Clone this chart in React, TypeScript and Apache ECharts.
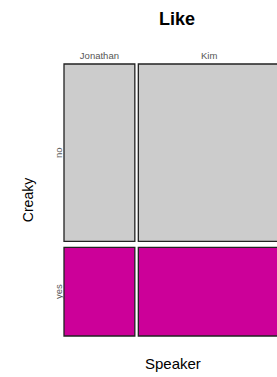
import React, { useEffect, useRef } from "react";
import * as echarts from "echarts";

const speakers = ["Jonathan", "Kim"];
const creaky = ["no", "yes"];
const countsNo = [20, 40];
const countsYes = [10, 20];

const title = "Like";
const xName = "Speaker";
const yName = "Creaky";
const fills = ["#cccccc", "#cc0099"];

export default function App() {
  const ref = useRef<HTMLDivElement>(null);
  useEffect(() => {
    if (!ref.current) return;
    const chart = echarts.init(ref.current, undefined, { renderer: "svg" });
    const colTotals = speakers.map((_, i) => countsNo[i] + countsYes[i]);
    const grand = colTotals.reduce((a, b) => a + b, 0);
    const colStart: number[] = [];
    let acc = 0;
    colTotals.forEach((t) => {
      colStart.push(acc / grand);
      acc += t;
    });
    const rows = [countsNo, countsYes];
    const data: number[][] = [];
    speakers.forEach((_, c) => {
      creaky.forEach((_, r) => data.push([c, r]));
    });
    const gapX = 3.5;
    const gapY = 6;
    const font = "Liberation Sans, Arial, sans-serif";

    chart.setOption({
      animation: false,
      title: {
        text: title,
        left: 172,
        top: 5,
        textAlign: "center",
        textStyle: { fontSize: 18, fontWeight: "bold", color: "#000", fontFamily: font },
      },
      grid: { left: 64, right: 10, top: 64, bottom: 41 },
      xAxis: { type: "value", min: 0, max: 1, show: false },
      yAxis: { type: "value", min: 0, max: 1, inverse: true, show: false },
      graphic: [
        {
          type: "text",
          left: 145,
          top: 356,
          style: { text: xName, fontSize: 15, fill: "#000", fontFamily: font },
        },
        {
          type: "text",
          x: 28,
          y: 200,
          rotation: Math.PI / 2,
          style: {
            text: yName,
            fontSize: 14,
            fill: "#000",
            fontFamily: font,
            align: "center",
            verticalAlign: "middle",
          },
        },
      ],
      series: [
        {
          type: "custom",
          data,
          clip: false,
          renderItem: (params: any, api: any) => {
            const c = api.value(0);
            const r = api.value(1);
            const p0 = api.coord([0, 0]);
            const p1 = api.coord([1, 1]);
            const plotW = p1[0] - p0[0] - gapX * (speakers.length - 1);
            const plotH = p1[1] - p0[1] - gapY * (creaky.length - 1);
            const x = p0[0] + colStart[c] * plotW + c * gapX;
            const w = (colTotals[c] / grand) * plotW;
            let rs = 0;
            for (let k = 0; k < r; k++) rs += rows[k][c];
            const y = p0[1] + (rs / colTotals[c]) * plotH + r * gapY;
            const h = (rows[r][c] / colTotals[c]) * plotH;
            const children: any[] = [
              {
                type: "rect",
                shape: { x, y, width: w, height: h },
                style: { fill: fills[r], stroke: "#222", lineWidth: 1.3 },
              },
            ];
            if (r === 0) {
              children.push({
                type: "text",
                x: x + w / 2,
                y: y - 9,
                style: {
                  text: speakers[c],
                  fontSize: 9.5,
                  fill: "#555",
                  fontFamily: font,
                  align: "center",
                  verticalAlign: "middle",
                },
              });
            }
            if (c === 0) {
              children.push({
                type: "text",
                x: x - 6,
                y: y + h / 2,
                rotation: Math.PI / 2,
                style: {
                  text: creaky[r],
                  fontSize: 9.5,
                  fill: "#555",
                  fontFamily: font,
                  align: "center",
                  verticalAlign: "middle",
                },
              });
            }
            return { type: "group", children };
          },
        },
      ],
    });
    return () => chart.dispose();
  }, []);
  return (
    <div style={{ position: "fixed", left: 0, top: 0, width: 277, height: 377, overflow: "hidden", background: "#fff" }}>
      <div ref={ref} style={{ width: 290, height: 377 }} />
    </div>
  );
}
